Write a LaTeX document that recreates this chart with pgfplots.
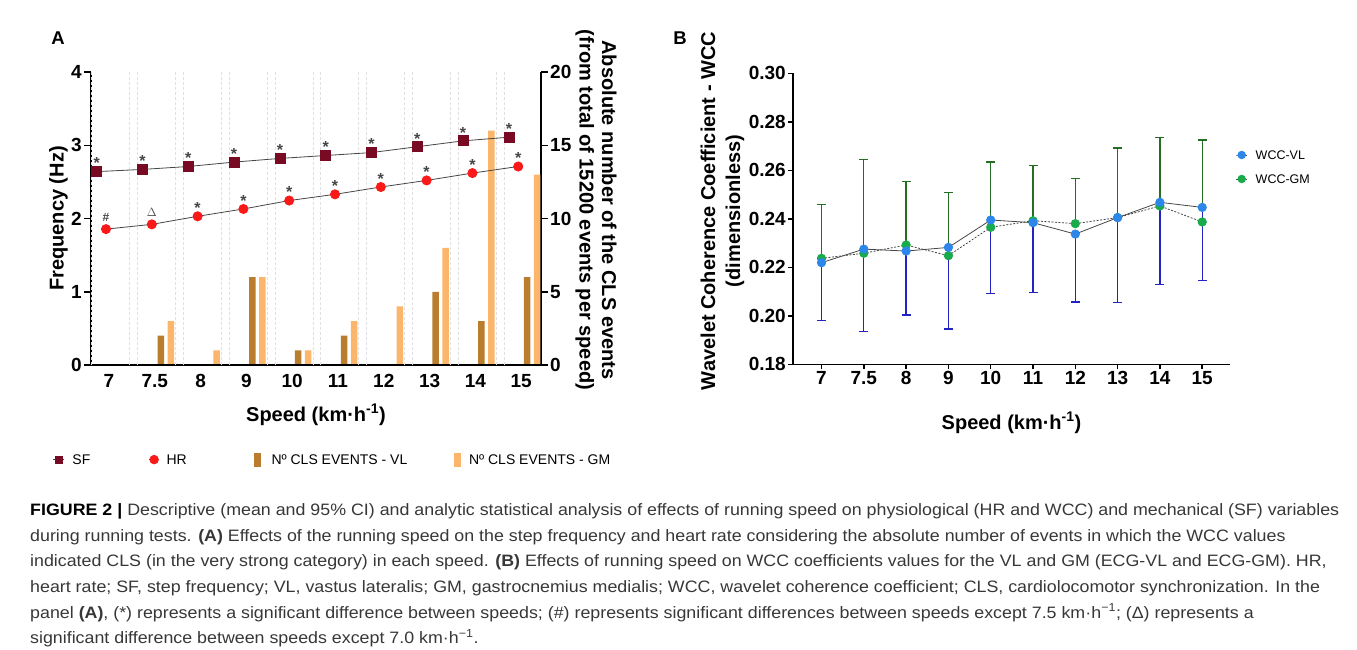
\documentclass[border=0pt]{standalone}
\usepackage{fontspec}
\setmainfont{Liberation Sans}
\newfontfamily\capfont[FakeStretch=1.08]{Liberation Sans}
\usepackage{pgfplots}
\pgfplotsset{compat=1.18}

\definecolor{sfred}{RGB}{120,10,35}
\definecolor{hrred}{RGB}{250,25,25}
\definecolor{vlbar}{RGB}{185,125,45}
\definecolor{gmbar}{RGB}{252,182,108}
\definecolor{vlblue}{RGB}{45,135,235}
\definecolor{gmgreen}{RGB}{25,170,75}
\definecolor{errblue}{RGB}{35,35,195}
\definecolor{errgreen}{RGB}{35,110,35}
\definecolor{linegray}{RGB}{70,70,70}
\definecolor{captext}{RGB}{55,55,55}

\pgfplotsset{
  /pgf/number format/assume math mode=true,
  shortline/.style={legend image code/.code={\draw[mark repeat=2,mark phase=2,##1] plot coordinates {(0pt,0pt)(5.3pt,0pt)(10.6pt,0pt)};}},
  boxleg/.style={legend image code/.code={\fill[##1] (0pt,-7pt) rectangle (7pt,7pt);}},
  base/.style={scale only axis, clip=false,
    axis line style={black, line width=1.5pt},
    tick style={black, line width=1.5pt}, tick align=outside,
    tick label style={font=\fontsize{19}{19}\selectfont\bfseries, inner sep=2pt},
    label style={font=\fontsize{20}{22.6}\selectfont\bfseries, align=center},
    legend cell align=left},
}

\begin{document}
\begin{tikzpicture}
\useasboundingbox (0pt,0pt) rectangle (1357pt,-650pt);

\node[font=\fontsize{18.5}{18.5}\selectfont\bfseries] at (58pt,-38pt) {A};
\node[font=\fontsize{18.5}{18.5}\selectfont\bfseries] at (680pt,-38.5pt) {B};

%% Panel A, right axis: number of CLS events (bars)
\begin{axis}[base, at={(91pt,-365pt)}, anchor=south west,
    width=450pt, height=293pt,
    xmin=-0.393, xmax=9.432, ymin=0, ymax=20,
    axis x line=none, axis y line*=right,
    ytick={0,5,10,15,20}, major tick length=7pt,
    ybar, bar width=6.5pt,
    ylabel={Absolute number of the CLS events\\(from total of 15200 events per speed)},
    ylabel style={at={(axis description cs:1.1222,0.529)}, anchor=center, rotate=180},
]
\addplot[fill=vlbar, draw=none, bar shift=6pt] coordinates {
  (0,0)(1,2)(2,0)(3,6)(4,1)(5,2)(6,0)(7,5)(8,3)(9,6)};
\addplot[fill=gmbar, draw=none, bar shift=16pt] coordinates {
  (0,0)(1,3)(2,1)(3,6)(4,1)(5,3)(6,4)(7,8)(8,16)(9,13)};
\end{axis}

%% Panel A, left axis: SF and HR
\begin{axis}[base, at={(91pt,-365pt)}, anchor=south west,
    width=450pt, height=293pt,
    xmin=-0.393, xmax=9.432, ymin=0, ymax=4,
    axis x line*=bottom, axis y line*=left,
    xtick={0,...,9}, xticklabels={7,7.5,8,9,10,11,12,13,14,15},
    xtick style={draw=none}, major tick length=7pt,
    extra x ticks={-0.38,0.45,0.62,1.45,1.62,2.45,2.62,3.45,3.62,4.45,4.62,5.45,5.62,6.45,6.62,7.45,7.62,8.45,8.62},
    extra x tick labels={},
    extra x tick style={grid=major, major grid style={densely dashed, black!12, line width=0.5pt}},
    ytick={0,1,2,3,4},
    xlabel={Speed (km·h\textsuperscript{-1})},
    xlabel style={at={(axis description cs:0.5,-0.1706)}, anchor=center},
    ylabel={Frequency (Hz)},
    ylabel style={at={(axis description cs:-0.0722,0.5)}, anchor=center},
    nodes near coords, point meta=explicit symbolic,
    every node near coord/.style={font=\fontsize{16}{16}\selectfont\bfseries, anchor=base, yshift=2.7pt, inner sep=0pt},
    legend style={at={(axis description cs:-0.0844,-0.3229)}, anchor=west, draw=none, fill=none,
      inner sep=0pt, outer sep=0pt, legend columns=4, column sep=0pt,
      font=\fontsize{14}{14}\selectfont,
      nodes={inner sep=0pt, text height=11pt, text depth=1pt}, cells={anchor=west}},
]
%% SF
\addplot[forget plot, color=linegray, line width=0.8pt, xshift=-12.3pt,
    mark=square*, mark size=5pt, mark options={fill=sfred, draw=sfred, solid}] coordinates {
  (0,2.64)[*] (1,2.67)[*] (2,2.71)[*] (3,2.77)[*] (4,2.82)[*]
  (5,2.86)[*] (6,2.90)[*] (7,2.98)[*] (8,3.06)[*] (9,3.11)[*]};
%% HR
\addplot[forget plot, color=linegray, line width=0.8pt, xshift=-3pt,
    mark=*, mark size=4.6pt, mark options={fill=hrred, draw=hrred, solid}] coordinates {
  (0,1.855)[{\raisebox{5pt}{\fontsize{12}{12}\selectfont\#}}]
  (1,1.92)[{\raisebox{5pt}{\fontsize{12}{12}\selectfont$\Delta$}}]
  (2,2.03)[*] (3,2.13)[*] (4,2.245)[*]
  (5,2.33)[*] (6,2.43)[*] (7,2.52)[*] (8,2.62)[*] (9,2.71)[*]};
\addlegendimage{shortline, color=linegray, line width=0.8pt, mark=square*, mark size=3.5pt, mark options={fill=sfred, draw=sfred, solid}}
\addlegendentry{\makebox[84pt][l]{\hspace{8pt}SF}}
\addlegendimage{shortline, color=linegray, line width=0.8pt, mark=*, mark size=4.3pt, mark options={fill=hrred, draw=hrred, solid}}
\addlegendentry{\makebox[93.7pt][l]{\hspace{6.7pt}HR}}
\addlegendimage{boxleg, fill=vlbar, draw=none}
\addlegendentry{\makebox[193pt][l]{\hspace{11pt}Nº CLS EVENTS - VL}}
\addlegendimage{boxleg, fill=gmbar, draw=none}
\addlegendentry{\hspace{8.5pt}Nº CLS EVENTS - GM}
\end{axis}

%% Panel B: WCC
\begin{axis}[base, at={(793pt,-364.3pt)}, anchor=south west,
    width=437pt, height=291pt,
    xmin=-0.674, xmax=9.657, ymin=0.18, ymax=0.30,
    axis lines*=left, major tick length=5pt,
    xtick={0,...,9}, xticklabels={7,7.5,8,9,10,11,12,13,14,15},
    ytick={0.18,0.20,0.22,0.24,0.26,0.28,0.30},
    yticklabel style={/pgf/number format/.cd, fixed, fixed zerofill, precision=2},
    xlabel={Speed (km·h\textsuperscript{-1})},
    xlabel style={at={(axis description cs:0.5,-0.2017)}, anchor=center},
    ylabel={Wavelet Coherence Coefficient - WCC\\(dimensionless)},
    ylabel style={at={(axis description cs:-0.1613,0.527)}, anchor=center, font=\fontsize{20}{25}\selectfont\bfseries},
    legend style={at={(axis description cs:1.0137,0.678)}, anchor=west, draw=none, fill=none,
      inner sep=0pt, outer sep=0pt, row sep=14pt,
      font=\fontsize{12.5}{12.5}\selectfont,
      nodes={inner sep=0pt, text height=9pt, text depth=1pt}, cells={anchor=west}},
]
%% GM: mean with upper 95% CI
\addplot[forget plot, color=linegray, line width=0.8pt, dash pattern=on 2pt off 1.5pt,
    mark=*, mark size=4.2pt, mark options={fill=gmgreen, draw=gmgreen, solid},
    error bars/.cd, y dir=plus, y explicit,
    error bar style={color=errgreen, line width=1.3pt, solid},
    error mark options={rotate=90, mark size=4.5pt, line width=1.3pt, color=errgreen}] coordinates {
  (0,0.2237) +- (0,0.0223) (1,0.2258) +- (0,0.0387) (2,0.2292) +- (0,0.0263)
  (3,0.2248) +- (0,0.0260) (4,0.2365) +- (0,0.0269) (5,0.2392) +- (0,0.0229)
  (6,0.2380) +- (0,0.0187) (7,0.2405) +- (0,0.0287) (8,0.2453) +- (0,0.0281)
  (9,0.2387) +- (0,0.0338)};
%% VL: mean with lower 95% CI
\addplot[forget plot, color=linegray, line width=0.8pt,
    mark=*, mark size=4.2pt, mark options={fill=vlblue, draw=vlblue, solid},
    error bars/.cd, y dir=minus, y explicit,
    error bar style={color=errblue, line width=1.3pt, solid},
    error mark options={rotate=90, mark size=4.5pt, line width=1.3pt, color=errblue}] coordinates {
  (0,0.2219) +- (0,0.0239) (1,0.2275) +- (0,0.0339) (2,0.2267) +- (0,0.0264)
  (3,0.2282) +- (0,0.0336) (4,0.2395) +- (0,0.0304) (5,0.2384) +- (0,0.0287)
  (6,0.2337) +- (0,0.0280) (7,0.2405) +- (0,0.0351) (8,0.2468) +- (0,0.0338)
  (9,0.2447) +- (0,0.0302)};
\addlegendimage{shortline, color=linegray, line width=0.8pt, mark=*, mark size=3.8pt, mark options={fill=vlblue, draw=vlblue, solid}}
\addlegendentry{\hspace{8.3pt}WCC-VL}
\addlegendimage{shortline, color=linegray, line width=0.8pt, dash pattern=on 1.5pt off 1pt, mark=*, mark size=3.8pt, mark options={fill=gmgreen, draw=gmgreen, solid}}
\addlegendentry{\hspace{8.3pt}WCC-GM}
\end{axis}

%% Caption
\begin{scope}[every node/.style={anchor=base west, inner sep=0pt, text=captext, font=\capfont\fontsize{16.5}{16.5}\selectfont}]
\node at (30pt,-515.7pt) {\textbf{\color{black}FIGURE 2 |} Descriptive (mean and 95\% CI) and analytic statistical analysis of effects of running speed on physiological (HR and WCC) and mechanical (SF) variables};
\node at (30pt,-541.3pt) {during running tests. \textbf{(A)} Effects of the running speed on the step frequency and heart rate considering the absolute number of events in which the WCC values};
\node at (30pt,-566.9pt) {indicated CLS (in the very strong category) in each speed. \textbf{(B)} Effects of running speed on WCC coefficients values for the VL and GM (ECG-VL and ECG-GM). HR,};
\node at (30pt,-592.5pt) {heart rate; SF, step frequency; VL, vastus lateralis; GM, gastrocnemius medialis; WCC, wavelet coherence coefficient; CLS, cardiolocomotor synchronization. In the};
\node at (30pt,-618.1pt) {panel \textbf{(A)}, (*) represents a significant difference between speeds; (\#) represents significant differences between speeds except 7.5 km·h\textsuperscript{−1}; (Δ) represents a};
\node at (30pt,-643.7pt) {significant difference between speeds except 7.0 km·h\textsuperscript{−1}.};
\end{scope}
\end{tikzpicture}
\end{document}
